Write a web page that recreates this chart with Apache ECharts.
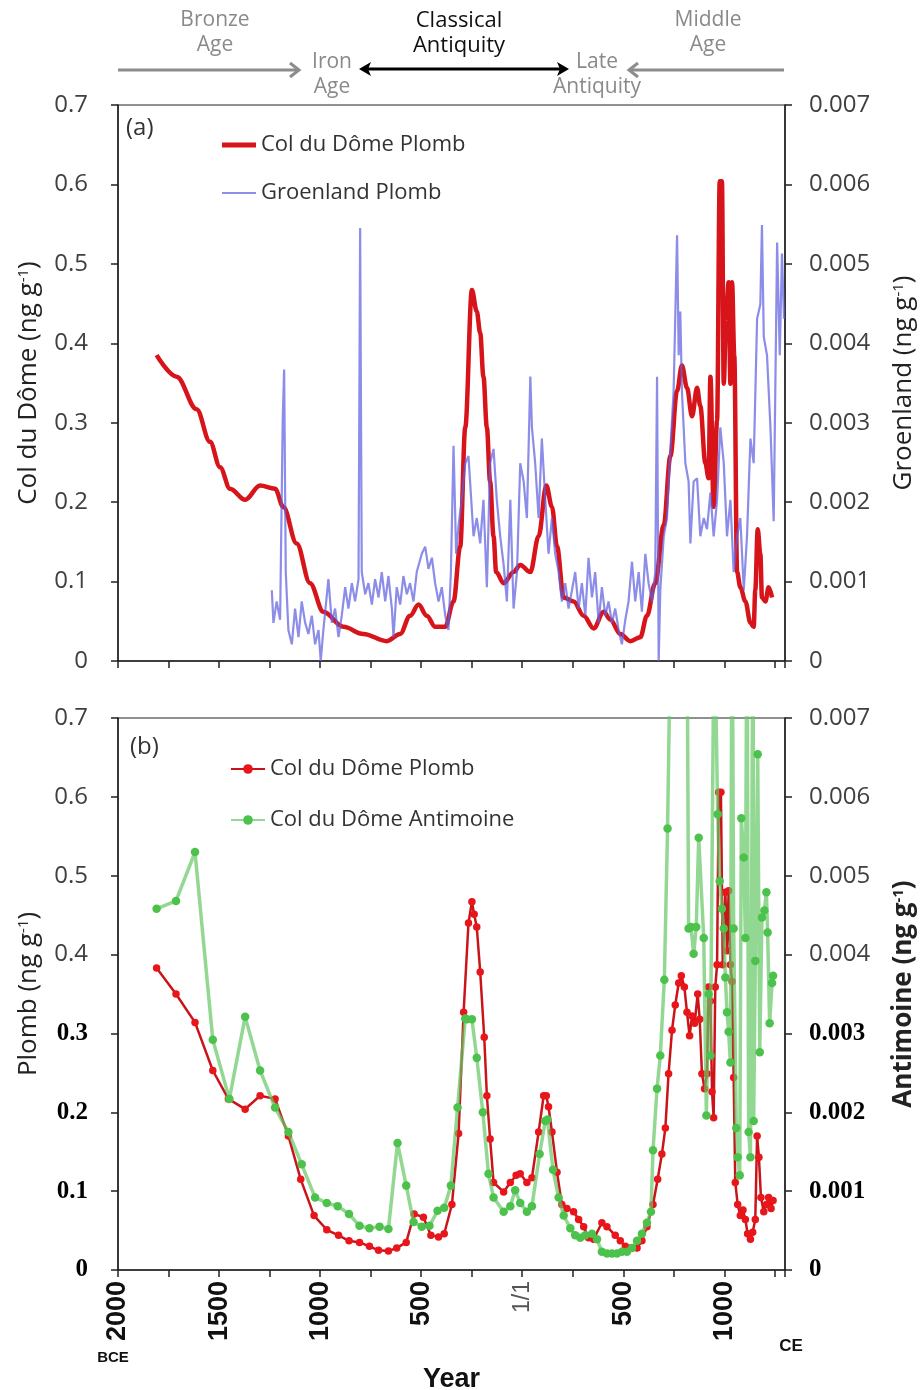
<!DOCTYPE html>
<html><head><meta charset="utf-8">
<script src="https://cdn.jsdelivr.net/npm/echarts@6/dist/echarts.min.js"></script>
<style>html,body{margin:0;padding:0;background:#fff}#c{width:922px;height:1390px}</style>
</head><body><div id="c"></div><script>
// ---------- DATA ----------
const xTickYears = [-2000, -1500, -1000, -500, 0, 500, 1000];
const yLeftTicks = [0, 0.1, 0.2, 0.3, 0.4, 0.5, 0.6, 0.7];
const yRightTicks = [0, 0.001, 0.002, 0.003, 0.004, 0.005, 0.006, 0.007];

// (a) Col du Dôme Plomb (ng/g) - smoothed curve
const topRedYears = [-1809,-1710,-1611,-1545,-1495,-1446,-1371,-1297,-1223,-1182,-1116,-1050,-984,-885,-786,-670,-604,-555,-513,-472,-431,-381,-340,-307,-282,-249,-225,-208,-192,-175,-159,-142,-129,-92,-43,-10,40,81,119,147,172,205,254,304,353,403,436,485,535,584,617,658,700,733,766,790,815,840,865,881,906,922,931,947,964,977,988,997,1008,1021,1030,1038,1049,1063,1079,1104,1129,1145,1153,1165,1178,1186,1203,1219,1236];
const topRedValues = [0.385,0.358,0.317,0.276,0.244,0.217,0.203,0.221,0.217,0.194,0.148,0.098,0.062,0.043,0.034,0.025,0.034,0.057,0.071,0.057,0.043,0.043,0.075,0.144,0.294,0.467,0.44,0.413,0.358,0.294,0.226,0.157,0.112,0.098,0.112,0.121,0.112,0.157,0.221,0.194,0.144,0.080,0.075,0.057,0.041,0.062,0.052,0.034,0.025,0.030,0.057,0.098,0.171,0.258,0.340,0.372,0.344,0.308,0.344,0.321,0.249,0.230,0.358,0.194,0.303,0.604,0.604,0.349,0.431,0.477,0.349,0.477,0.385,0.112,0.093,0.075,0.048,0.043,0.089,0.166,0.135,0.080,0.075,0.093,0.080];

// (a) Groenland Plomb (ng/g)
const topBlueYears = [-1239,-1231,-1215,-1198,-1185,-1178,-1170,-1157,-1140,-1124,-1107,-1091,-1074,-1058,-1041,-1025,-1008,-997,-984,-959,-942,-926,-909,-893,-876,-860,-843,-827,-810,-802,-794,-777,-761,-744,-728,-711,-695,-678,-662,-645,-637,-621,-604,-588,-571,-555,-538,-522,-497,-480,-464,-447,-431,-414,-398,-381,-365,-353,-340,-327,-315,-299,-282,-266,
 -241,-225,-208,-192,-175,-159,-142,-126,-109,-92,-76,-59,-43,-26,-10,7,23,40,48,64,81,97,114,130,147,163,180,196,213,229,246,262,279,295,312,328,345,361,378,394,411,427,444,460,477,493,510,526,543,559,576,592,609,625,642,658,667,675,683,700,716,733,749,766,774,782,790,807,823,832,848,865,881,898,914,931,947,964,980,997,1013,1030,1046,1063,1079,1096,1112,1129,1145,1162,1178,1186,1195,1211,1228,1244,1261,1274,1285,1295];
const topBlueValues = [0.00089,0.00048,0.00075,0.00052,0.00303,0.00367,0.00112,0.00039,0.00021,0.00066,0.00030,0.00075,0.00048,0.00034,0.00057,0.00021,0.00039,0,0.00039,0.00103,0.00048,0.00066,0.00030,0.00057,0.00093,0.00066,0.00098,0.00075,0.00103,0.00545,0.00112,0.00084,0.00098,0.00071,0.00103,0.00080,0.00112,0.00075,0.00107,0.00066,0.00030,0.00093,0.00071,0.00107,0.00084,0.00098,0.00075,0.00112,0.00135,0.00144,0.00116,0.00130,0.00098,0.00075,0.00093,0.00057,0.00039,0.00112,0.00271,0.00135,0.00171,0.00203,0.00249,0.00258,
 0.00157,0.00180,0.00148,0.00203,0.00093,0.00249,0.00267,0.00203,0.00157,0.00121,0.00075,0.00203,0.00066,0.00112,0.00249,0.00226,0.00180,0.00358,0.00294,0.00249,0.00180,0.00280,0.00203,0.00135,0.00180,0.00135,0.00112,0.00075,0.00098,0.00066,0.00089,0.00112,0.00066,0.00098,0.00057,0.00130,0.00080,0.00112,0.00048,0.00093,0.00057,0.00075,0.00048,0.00066,0.00039,0.00021,0.00052,0.00075,0.00125,0.00075,0.00112,0.00062,0.00135,0.00098,0.00075,0.00112,0.00358,0,0.00089,0.00157,0.00180,0.00267,0.00340,0.00536,0.00385,0.00440,0.00340,0.00249,0.00226,0.00148,0.00226,0.00230,0.00157,0.00180,0.00166,0.00212,0.00157,0.00203,0.00294,0.00249,0.00157,0.00203,0.00112,0.00157,0.00180,0.00089,0.00157,0.00280,0.00249,0.00431,0.00449,0.00549,0.00408,0.00385,0.00294,0.00176,0.00527,0.00385,0.00513,0.00431];

// (b) Col du Dôme Plomb (ng/g) - samples
const botRedYears = [-1809,-1713,-1619,-1531,-1454,-1371,-1297,-1223,-1157,-1096,-1030,-967,-909,-857,-805,-756,-711,-662,-621,-574,-535,-489,-452,-414,-386,-348,-315,-290,-266,-249,-238,-225,-208,-188,-175,-159,-142,-92,-59,-30,-10,23,48,81,106,119,130,147,172,196,221,254,279,304,328,353,394,419,460,485,510,535,568,592,617,647,670,691,708,724,741,757,774,787,802,815,828,840,853,868,878,889,902,914,922,931,939,947,955,964,972,983,992,1005,1013,1021,1030,1038,1046,1054,1066,1079,1092,1104,1115,1129,1140,1153,1162,1171,1181,1195,1208,1219,1231,1241];
const botRedValues = [0.383,0.350,0.314,0.253,0.217,0.204,0.221,0.217,0.170,0.115,0.069,0.051,0.044,0.037,0.035,0.030,0.025,0.024,0.028,0.035,0.071,0.067,0.044,0.042,0.046,0.083,0.173,0.327,0.440,0.467,0.451,0.435,0.378,0.295,0.221,0.166,0.111,0.099,0.111,0.120,0.122,0.111,0.117,0.175,0.221,0.221,0.207,0.175,0.124,0.083,0.078,0.074,0.064,0.055,0.041,0.039,0.060,0.055,0.044,0.037,0.030,0.028,0.028,0.037,0.055,0.083,0.115,0.147,0.180,0.249,0.304,0.336,0.364,0.373,0.359,0.327,0.297,0.322,0.313,0.350,0.318,0.249,0.230,0.249,0.359,0.341,0.226,0.193,0.359,0.387,0.606,0.606,0.387,0.479,0.405,0.481,0.387,0.366,0.244,0.111,0.083,0.069,0.076,0.064,0.046,0.039,0.048,0.064,0.170,0.143,0.092,0.074,0.083,0.092,0.078,0.088];

// (b) Col du Dôme Antimoine (ng/g)
const botGreenYears = [-1809,-1713,-1619,-1531,-1449,-1371,-1297,-1223,-1157,-1091,-1025,-967,-913,-857,-805,-756,-706,-662,-617,-574,-538,-497,-459,-419,-386,-353,-320,-282,-274,-249,-225,-195,-167,-142,-92,-59,-35,-10,23,48,86,114,125,152,180,205,238,262,287,312,345,370,394,419,444,469,493,518,543,568,592,617,637,647,667,683,703,719,736,815,823,835,848,861,873,898,911,922,931,950,967,977,988,997,1005,1013,1021,1030,1038,1046,1059,1066,1076,1084,1096,1104,1112,1120,1129,1142,1145,1153,1165,1175,1186,1198,1208,1214,1224,1236,1241];
const botGreenValues = [0.00458,0.00468,0.00530,0.00292,0.00217,0.00321,0.00253,0.00206,0.00175,0.00134,0.00092,0.00085,0.00081,0.00071,0.00056,0.00053,0.00055,0.00052,0.00161,0.00107,0.00061,0.00055,0.00056,0.00075,0.00079,0.00107,0.00206,0.00319,0.00318,0.00318,0.00269,0.00200,0.00122,0.00092,0.00074,0.00081,0.00101,0.00085,0.00074,0.00081,0.00147,0.00189,0.00191,0.00127,0.00092,0.00069,0.00053,0.00044,0.00041,0.00044,0.00046,0.00039,0.00023,0.00021,0.00021,0.00021,0.00023,0.00023,0.00028,0.00037,0.00046,0.00060,0.00074,0.00152,0.00230,0.00272,0.00368,0.00560,0.00850,0.00850,0.00433,0.00435,0.00401,0.00435,0.00548,0.00421,0.00196,0.00350,0.00272,0.00850,0.00578,0.00493,0.00458,0.00433,0.00371,0.00327,0.00302,0.00263,0.00900,0.00433,0.00180,0.00143,0.00120,0.00573,0.00523,0.00421,0.00880,0.00175,0.00143,0.00880,0.00189,0.00392,0.00654,0.00276,0.00447,0.00456,0.00479,0.00428,0.00313,0.00364,0.00373];

// ---------- BUILD ----------
const zip = (xs, ys) => xs.map((x, i) => [x, ys[i]]);
const FONT = "'Open Sans', 'Liberation Sans', sans-serif";
const BOLDSERIF = "'Liberation Serif', 'DejaVu Serif', serif";

function xAxisCfg(gi, withLabels) {
  const a = {
    gridIndex: gi, type: 'value', min: -2000, max: 1300, interval: 250,
    axisLine: { show: true, onZero: false, lineStyle: { color: '#222', width: 1.5 } },
    axisTick: { show: true, length: 7, lineStyle: { color: '#222', width: 1.5 } },
    splitLine: { show: false },
    axisLabel: { show: false }
  };
  if (withLabels) {
    a.axisLabel = {
      show: true, rotate: 90, margin: 11, hideOverlap: false,
      formatter: v => {
        if (xTickYears.indexOf(v) < 0) return '';
        if (v === 0) return '{t|1/1}';
        return '{n|' + Math.abs(v) + '}';
      },
      rich: {
        n: { fontFamily: "'Liberation Sans', sans-serif", fontWeight: 'bold', fontSize: 27, color: '#111' },
        t: { fontFamily: "'Liberation Sans', sans-serif", fontSize: 23, color: '#555' }
      }
    };
    a.name = 'Year';
    a.nameLocation = 'middle';
    a.nameGap = 96;
    a.nameTextStyle = { fontFamily: "'Liberation Sans Narrow', 'Liberation Sans', sans-serif", fontWeight: 'bold', fontSize: 27, color: '#111' };
  }
  return a;
}

function yAxisCfg(gi, pos, max, interval, name, boldBelow, nameBold) {
  const isLeft = pos === 'left';
  return {
    gridIndex: gi, type: 'value', position: pos, min: 0, max: max, interval: interval,
    axisLine: { show: true, onZero: false, lineStyle: { color: '#222', width: 1.5 } },
    axisTick: { show: true, length: 7, inside: false, lineStyle: { color: '#222', width: 1.5 } },
    splitLine: { show: false },
    axisLabel: {
      margin: isLeft ? 30 : 24,
      fontFamily: FONT, fontSize: 24, color: '#404040',
      formatter: v => {
        const digits = max < 0.01 ? 3 : 1;
        const s = Math.abs(v) < 1e-12 ? '0' : v.toFixed(digits);
        if (boldBelow !== null && v <= boldBelow + 1e-12) return '{b|' + s + '}';
        return s;
      },
      rich: { b: { fontFamily: BOLDSERIF, fontWeight: 'bold', fontSize: 25, color: '#000' } }
    },
    name: name + ' (ng g{s|-1})',
    nameLocation: 'middle', nameRotate: 90,
    nameGap: isLeft ? 76 : 106,
    nameTextStyle: {
      fontFamily: FONT, fontSize: 26, color: '#222', fontWeight: nameBold ? 'bold' : 'normal',
      rich: { s: { fontFamily: FONT, fontSize: 15, color: '#222', fontWeight: nameBold ? 'bold' : 'normal', verticalAlign: 'top', lineHeight: 26, padding: [0, 0, 12, 0] } }
    }
  };
}

const legendText = { fontFamily: FONT, fontSize: 22, color: '#333', lineHeight: 26 };

const option = {
  animation: false,
  backgroundColor: '#ffffff',
  grid: [
    { left: 118, right: 137, top: 105, height: 556, show: true, borderColor: '#222', borderWidth: 1.2, outerBoundsMode: 'none' },
    { left: 118, right: 137, top: 718, height: 552, show: true, borderColor: '#222', borderWidth: 1.2, outerBoundsMode: 'none' }
  ],
  xAxis: [xAxisCfg(0, false), xAxisCfg(1, true)],
  yAxis: [
    yAxisCfg(0, 'left', 0.7, 0.1, 'Col du Dôme', null, false),
    yAxisCfg(0, 'right', 0.007, 0.001, 'Groenland', null, false),
    yAxisCfg(1, 'left', 0.7, 0.1, 'Plomb', 0.3, false),
    yAxisCfg(1, 'right', 0.007, 0.001, 'Antimoine', 0.003, true)
  ],
  legend: [
    {
      data: [{ name: 'Col du Dôme Plomb', icon: 'rect' }], left: 222, top: 132, padding: 0,
      itemWidth: 34, itemHeight: 5, selectedMode: false, textStyle: legendText
    },
    {
      data: [{ name: 'Groenland Plomb', icon: 'rect' }], left: 222, top: 180, padding: 0,
      itemWidth: 34, itemHeight: 2, selectedMode: false, textStyle: legendText
    },
    {
      data: ['Col du Dôme Plomb ', 'Col du Dôme Antimoine'], orient: 'vertical', left: 230, top: 756, padding: 0,
      itemGap: 25, itemWidth: 34, itemHeight: 12, selectedMode: false, textStyle: legendText
    }
  ],
  series: [
    {
      name: 'Col du Dôme Plomb', type: 'line', xAxisIndex: 0, yAxisIndex: 0,
      data: zip(topRedYears, topRedValues), symbol: 'none', smooth: 0.35, smoothMonotone: 'x',
      lineStyle: { color: '#d7141a', width: 4.5 }, itemStyle: { color: '#d7141a' }, z: 2
    },
    {
      name: 'Groenland Plomb', type: 'line', xAxisIndex: 0, yAxisIndex: 1,
      data: zip(topBlueYears, topBlueValues), symbol: 'none',
      lineStyle: { color: 'rgba(95,95,225,0.72)', width: 2.2 }, itemStyle: { color: 'rgba(95,95,225,0.72)' }, z: 3
    },
    {
      name: 'Col du Dôme Plomb ', type: 'line', xAxisIndex: 1, yAxisIndex: 2,
      data: zip(botRedYears, botRedValues), symbol: 'circle', symbolSize: 7.5, showSymbol: true,
      lineStyle: { color: '#c9141a', width: 2.5 }, itemStyle: { color: '#e8161b' }, z: 2
    },
    {
      name: 'Col du Dôme Antimoine', type: 'line', xAxisIndex: 1, yAxisIndex: 3,
      data: zip(botGreenYears, botGreenValues), symbol: 'circle', symbolSize: 8.5, showSymbol: true, clip: true,
      lineStyle: { color: 'rgba(100,200,100,0.7)', width: 3.5 }, itemStyle: { color: '#4cc24c' }, z: 3
    }
  ],
  graphic: [
    // era labels
    { type: 'text', style: { text: 'Bronze\nAge', x: 215, y: 33, align: 'center', verticalAlign: 'middle', font: "21px 'Open Sans', sans-serif", fill: '#8a8a8a', lineHeight: 25 } },
    { type: 'text', style: { text: 'Classical\nAntiquity', x: 459, y: 33, align: 'center', verticalAlign: 'middle', font: "22px 'Open Sans', sans-serif", fill: '#111', lineHeight: 25 } },
    { type: 'text', style: { text: 'Middle\nAge', x: 708, y: 33, align: 'center', verticalAlign: 'middle', font: "21px 'Open Sans', sans-serif", fill: '#8a8a8a', lineHeight: 25 } },
    { type: 'text', style: { text: 'Iron\nAge', x: 332, y: 75, align: 'center', verticalAlign: 'middle', font: "21px 'Open Sans', sans-serif", fill: '#8a8a8a', lineHeight: 25 } },
    { type: 'text', style: { text: 'Late\nAntiquity', x: 597, y: 75, align: 'center', verticalAlign: 'middle', font: "21px 'Open Sans', sans-serif", fill: '#8a8a8a', lineHeight: 25 } },
    // arrows
    { type: 'line', shape: { x1: 118, y1: 70, x2: 298, y2: 70 }, style: { stroke: '#8c8c8c', lineWidth: 3 } },
    { type: 'polyline', shape: { points: [[290, 63], [299, 70], [290, 77]] }, style: { stroke: '#8c8c8c', lineWidth: 3, fill: null } },
    { type: 'line', shape: { x1: 364, y1: 69, x2: 564, y2: 69 }, style: { stroke: '#000', lineWidth: 3 } },
    { type: 'polygon', shape: { points: [[359, 69], [371, 62], [368, 69], [371, 76]] }, style: { fill: '#000' } },
    { type: 'polygon', shape: { points: [[569, 69], [557, 62], [560, 69], [557, 76]] }, style: { fill: '#000' } },
    { type: 'line', shape: { x1: 630, y1: 70, x2: 784, y2: 70 }, style: { stroke: '#8c8c8c', lineWidth: 3 } },
    { type: 'polyline', shape: { points: [[638, 63], [629, 70], [638, 77]] }, style: { stroke: '#8c8c8c', lineWidth: 3, fill: null } },
    // panel labels
    { type: 'text', style: { text: '(a)', x: 126, y: 128, verticalAlign: 'middle', font: "24px 'Open Sans', sans-serif", fill: '#333' } },
    { type: 'text', style: { text: '(b)', x: 130, y: 747, verticalAlign: 'middle', font: "24px 'Open Sans', sans-serif", fill: '#333' } },
    // era suffixes
    { type: 'text', style: { text: 'BCE', x: 113, y: 1358, align: 'center', verticalAlign: 'middle', font: "bold 15px 'Liberation Sans Narrow', 'Liberation Sans', sans-serif", fill: '#111' } },
    { type: 'text', style: { text: 'CE', x: 791, y: 1346, align: 'center', verticalAlign: 'middle', font: "bold 17px 'Liberation Sans Narrow', 'Liberation Sans', sans-serif", fill: '#111' } }
  ]
};

const chart = echarts.init(document.getElementById('c'), null, { renderer: 'canvas' });
chart.setOption(option);
</script></body></html>
